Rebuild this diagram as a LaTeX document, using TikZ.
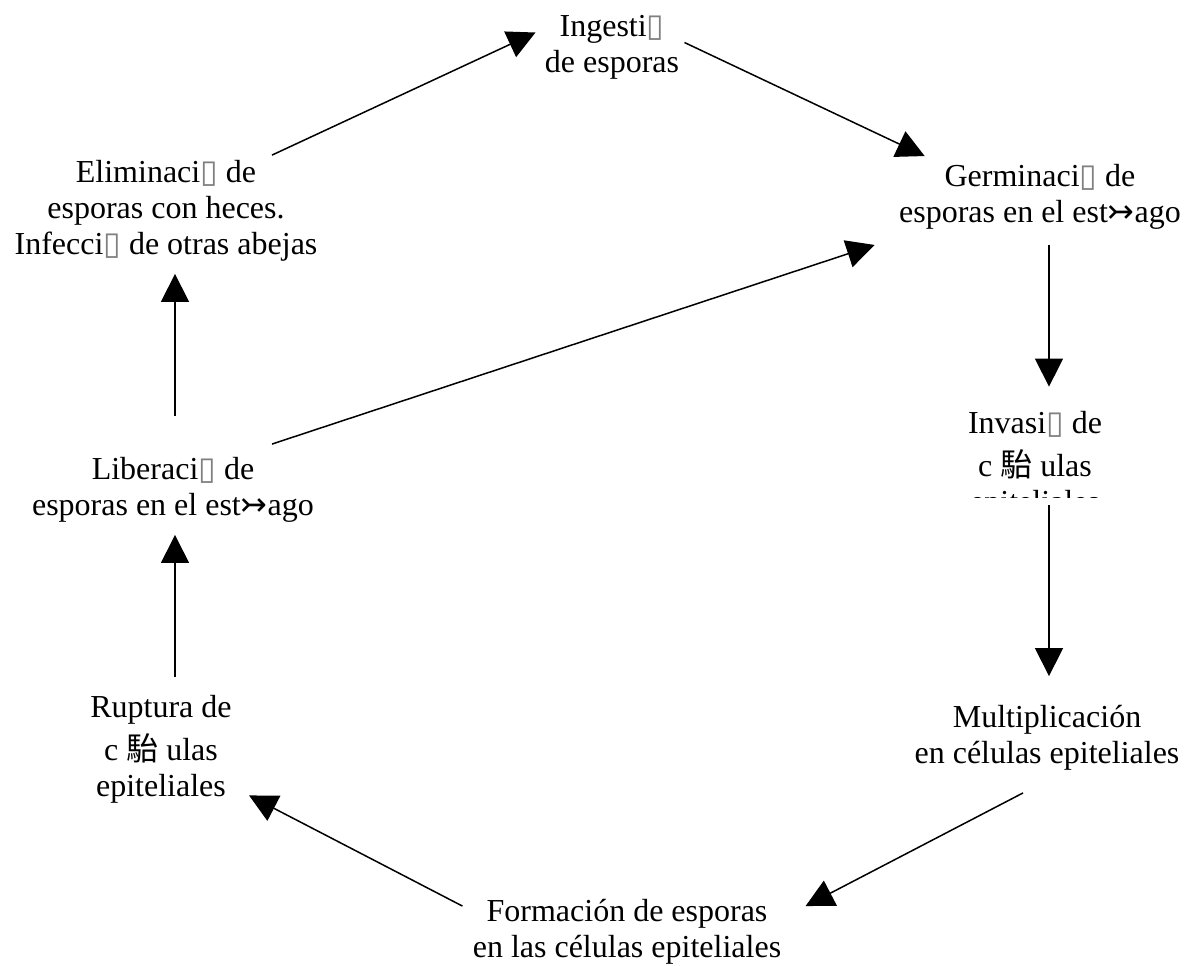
\documentclass[tikz,border=0pt]{standalone}
\usepackage{fontspec}
\setmainfont{Liberation Serif}
\newfontfamily\symfont{DejaVu Sans}
\newfontfamily\cjkfont{Noto Sans CJK SC}
\usetikzlibrary{arrows.meta,calc}
\newcommand{\nobox}{{\symfont\color{gray}▯}}
\newcommand{\arw}{{\symfont ↣}}
\newcommand{\kanji}{{\cjkfont 駘}}

\begin{document}
\begin{tikzpicture}[x=0.5pt,y=-0.5pt,
  stage/.style={align=center,inner sep=0pt,font=\fontsize{16}{18}\selectfont},
  flow/.style={line width=0.75pt,-{Triangle[length=14pt,width=14pt]}}]

\useasboundingbox (0,0) rectangle (1189,965);

%-------------------Stages--------------------%
\node[stage] (ingest) at (612,47) {Ingesti\nobox\\de esporas};
\node[stage] (germ) at (1040,197) {Germinaci\nobox{} de\\esporas en el est\arw ago};
\begin{scope}
\clip (880,380) rectangle (1189,497);
\node[stage] (invasion) at (1035,465) {Invasi\nobox{} de\\[3.5pt]c \kanji{} ulas\\epiteliales};
\end{scope}
\node[stage] (mult) at (1047,738) {Multiplicación\\en células epiteliales};
\node[stage] (form) at (627,932) {Formación de esporas\\en las células epiteliales};
\node[stage] (rupt) at (161,749) {Ruptura de\\[3.5pt]c \kanji{} ulas\\epiteliales};
\node[stage] (lib) at (173,490) {Liberaci\nobox{} de\\esporas en el est\arw ago};
\node[stage] (elim) at (166,211) {Eliminaci\nobox{} de\\esporas con heces.\\Infecci\nobox{} de otras abejas};
%----------------------------------------------%

%-------------------Cycle--------------------%
\draw[flow] ($(elim.north)+(106,-5)$) -- ($(ingest.west)+(-9,-14.5)$);
\draw[flow] ($(ingest.east)+(5,-4.5)$) -- ($(germ.north west)+(26,-8)$);
\draw[flow] ($(germ.south)+(9,15)$) -- ($(invasion.north)+(14,-24)$);
\draw[flow] ($(invasion.south)+(14,-14)$) -- ($(mult.north)+(2,-29)$);
\draw[flow] ($(mult.south)+(-24,22)$) -- ($(form.north east)+(24,7)$);
\draw[flow] ($(form.north west)+(-10,7)$) -- ($(rupt.south east)+(17,-8)$);
\draw[flow] ($(rupt.north)+(14,-18)$) -- ($(lib.south)+(2,12)$);
\draw[flow] ($(lib.north)+(2,-41)$) -- ($(elim.south)+(9,12)$);
\draw[flow] ($(lib.north)+(99,-13)$) -- ($(germ.south west)+(-24,15)$);
%----------------------------------------------%
\end{tikzpicture}
\end{document}
